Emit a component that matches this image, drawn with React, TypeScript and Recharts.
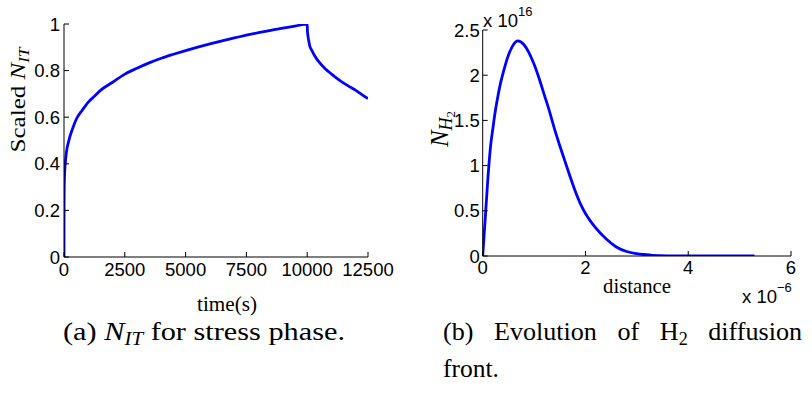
import React from 'react';
import { LineChart, Line, XAxis, YAxis } from 'recharts';

// (a) Scaled N_IT vs time(s)
const timeS = [0, 3, 10, 30, 60, 100, 200, 350, 500, 750, 1000, 1250, 1500, 2000, 2500, 3000, 3500, 4000, 4500, 5000, 5500, 6000, 6500, 7000, 7500, 8000, 8500, 9000, 9500, 10000, 10010, 10030, 10060, 10100, 10200, 10300, 10500, 10750, 11000, 11250, 11500, 11750, 12000, 12250, 12500];
const scaledNIT = [0, 0.22, 0.3, 0.37, 0.41, 0.45, 0.5, 0.55, 0.59, 0.63, 0.665, 0.69, 0.715, 0.75, 0.785, 0.81, 0.833, 0.853, 0.87, 0.886, 0.901, 0.915, 0.928, 0.94, 0.952, 0.963, 0.973, 0.982, 0.991, 1.0, 0.97, 0.95, 0.93, 0.908, 0.885, 0.865, 0.835, 0.807, 0.785, 0.764, 0.746, 0.73, 0.715, 0.697, 0.68];
const timeTicks = [0, 2500, 5000, 7500, 10000, 12500];
const nitTicks = [0, 0.2, 0.4, 0.6, 0.8, 1];

// (b) N_H2 (x 1e16) vs distance (x 1e-6)
const distanceE6 = [0, 0.05, 0.1, 0.15, 0.2, 0.25, 0.3, 0.35, 0.4, 0.5, 0.6, 0.68, 0.8, 0.9, 1.0, 1.1, 1.2, 1.3, 1.4, 1.5, 1.6, 1.7, 1.8, 1.9, 2.0, 2.2, 2.4, 2.6, 2.8, 3.0, 3.3, 3.6, 4.0, 4.5, 5.29];
const nH2E16 = [0, 0.42, 0.85, 1.2, 1.42, 1.62, 1.78, 1.92, 2.03, 2.22, 2.34, 2.38, 2.34, 2.25, 2.12, 1.96, 1.78, 1.6, 1.4, 1.22, 1.05, 0.88, 0.72, 0.58, 0.47, 0.31, 0.19, 0.1, 0.05, 0.025, 0.008, 0.002, 0.0005, 0, 0];
const distTicks = [0, 2, 4, 6];
const nh2Ticks = [0, 0.5, 1, 1.5, 2, 2.5];

const leftData = timeS.map((t, i) => ({ t, v: scaledNIT[i] }));
const rightData = distanceE6.map((d, i) => ({ d, v: nH2E16[i] }));

const serif = "'Liberation Serif', 'Times New Roman', serif";
const sans = "'Liberation Sans', Arial, sans-serif";
const tickStyle = { fill: '#000', fontSize: 18.5, fontFamily: sans };
const blank = () => '';

export default function App() {
  return (
    <div style={{ position: 'absolute', left: 0, top: 0, width: 812, height: 412, background: '#fff', overflow: 'hidden' }}>
      <div style={{ position: 'absolute', left: 0, top: 0 }}>
        <LineChart width={400} height={300} data={leftData} margin={{ top: 24, right: 32, bottom: 0, left: 0 }}>
          <XAxis xAxisId="b" dataKey="t" type="number" domain={[0, 12500]} ticks={timeTicks} interval={0}
            tickSize={-5} tickMargin={11} height={43} stroke="#000" tick={tickStyle} allowDataOverflow />
          <XAxis xAxisId="t" orientation="top" dataKey="t" type="number" domain={[0, 12500]} ticks={timeTicks} interval={0}
            tickSize={-5} height={0} stroke="#000" tickFormatter={blank} allowDataOverflow />
          <YAxis yAxisId="l" type="number" domain={[0, 1]} ticks={nitTicks} interval={0}
            tickSize={-5} tickMargin={9} width={64} stroke="#000" tick={tickStyle} allowDataOverflow />
          <YAxis yAxisId="r" orientation="right" type="number" domain={[0, 1]} ticks={nitTicks} interval={0}
            tickSize={-5} width={0} stroke="#000" tickFormatter={blank} allowDataOverflow />
          <Line xAxisId="b" yAxisId="l" dataKey="v" type="monotone" stroke="#0000ff" strokeWidth={2.8} dot={false} isAnimationActive={false} />
        </LineChart>
      </div>
      <div style={{ position: 'absolute', left: 400, top: 0 }}>
        <LineChart width={412} height={300} data={rightData} margin={{ top: 30, right: 21, bottom: 0, left: 0 }}>
          <XAxis xAxisId="b" dataKey="d" type="number" domain={[0, 6]} ticks={distTicks} interval={0}
            tickSize={-5} tickMargin={10} height={44} stroke="#000" tick={tickStyle} allowDataOverflow />
          <XAxis xAxisId="t" orientation="top" dataKey="d" type="number" domain={[0, 6]} ticks={distTicks} interval={0}
            tickSize={-5} height={0} stroke="#000" tickFormatter={blank} allowDataOverflow />
          <YAxis yAxisId="l" type="number" domain={[0, 2.5]} ticks={nh2Ticks} interval={0}
            tickSize={-5} tickMargin={8} width={82.7} stroke="#000" tick={tickStyle} allowDataOverflow />
          <YAxis yAxisId="r" orientation="right" type="number" domain={[0, 2.5]} ticks={nh2Ticks} interval={0}
            tickSize={-5} width={0} stroke="#000" tickFormatter={blank} allowDataOverflow />
          <Line xAxisId="b" yAxisId="l" dataKey="v" type="monotone" stroke="#0000ff" strokeWidth={2.8} dot={false} isAnimationActive={false} />
        </LineChart>
      </div>
      <svg width={812} height={412} style={{ position: 'absolute', left: 0, top: 0, pointerEvents: 'none' }}>
        {/* left y label */}
        <text transform="translate(25,100) rotate(-90)" textAnchor="middle" fontFamily={serif} fontSize={22} fill="#000"
          textLength={105} lengthAdjust="spacingAndGlyphs">
          Scaled <tspan fontStyle="italic">N</tspan><tspan fontStyle="italic" fontSize={15} dy={4}>IT</tspan>
        </text>
        {/* left x label */}
        <text x={227} y={311} textAnchor="middle" fontFamily={serif} fontSize={21} fill="#000" textLength={60} lengthAdjust="spacingAndGlyphs">time(s)</text>
        {/* right y label */}
        <text transform="translate(448,129) rotate(-90)" textAnchor="middle" fontFamily={serif} fill="#000">
          <tspan fontStyle="italic" fontSize={25}>N</tspan><tspan fontStyle="italic" fontSize={18} dy={4}>H</tspan><tspan fontSize={13} dy={3}>2</tspan>
        </text>
        {/* right x label */}
        <text x={637} y={293} textAnchor="middle" fontFamily={serif} fontSize={21} fill="#000" textLength={68} lengthAdjust="spacingAndGlyphs">distance</text>
        {/* exponent labels */}
        <text x={483} y={27} fontFamily={sans} fontSize={18.5} fill="#000">
          x 10<tspan fontSize={13} dy={-11}>16</tspan>
        </text>
        <text x={742} y={303} fontFamily={sans} fontSize={18.5} fill="#000">
          x 10<tspan fontSize={13} dy={-11}>−6</tspan>
        </text>
        {/* captions */}
        <text x={63} y={340} fontFamily={serif} fontSize={26} fill="#000" textLength={282} lengthAdjust="spacingAndGlyphs">
          (a) <tspan fontStyle="italic">N</tspan><tspan fontStyle="italic" fontSize={18} dy={5}>IT</tspan><tspan dy={-5}> for stress phase.</tspan>
        </text>
        <text x={443} y={340} fontFamily={serif} fontSize={26} fill="#000" wordSpacing={14} textLength={359} lengthAdjust="spacingAndGlyphs">
          (b) Evolution of H<tspan fontSize={18} dy={5}>2</tspan><tspan dy={-5}> diffusion</tspan>
        </text>
        <text x={443} y={377} fontFamily={serif} fontSize={26} fill="#000" textLength={56} lengthAdjust="spacingAndGlyphs">front.</text>
      </svg>
    </div>
  );
}
